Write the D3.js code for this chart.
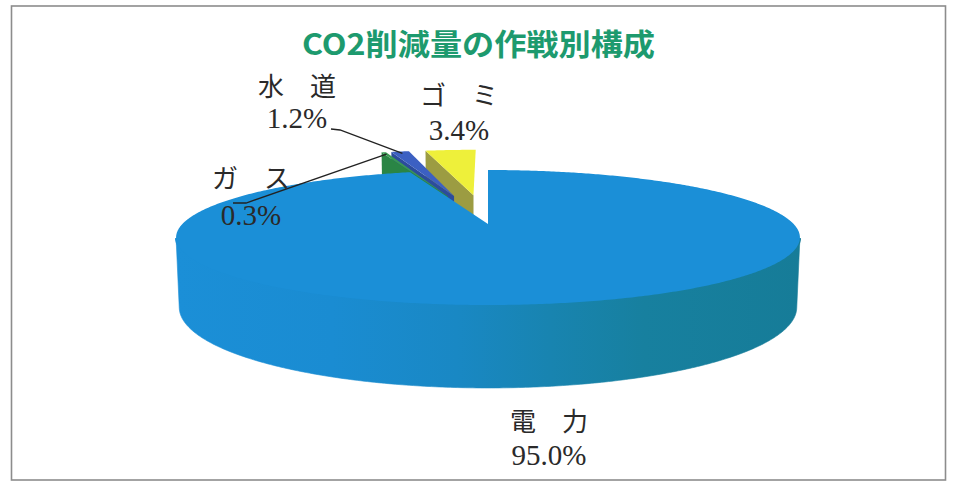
<!DOCTYPE html>
<html><head><meta charset="utf-8">
<script src="https://cdn.jsdelivr.net/npm/d3@7/dist/d3.min.js"></script>
<style>html,body{margin:0;padding:0;background:#fff;} svg{display:block}</style>
</head><body>
<svg id="chart" width="954" height="489"></svg>
<script>
// ---- data ----
const chartTitle = "CO2削減量の作戦別構成";
const categories = ["電力", "ガス", "水道", "ゴミ"];
const categoryLabels = ["電　力", "ガ　ス", "水　道", "ゴ　ミ"];
const values = [95.0, 0.3, 1.2, 3.4];
const valueLabels = ["95.0%", "0.3%", "1.2%", "3.4%"];
const explodedSlices = ["ガス", "水道", "ゴミ"];

// ---- styles ----
const topColors = {"電力": "#1b8fd7", "ガス": "#3a9a52", "水道": "#3c60c2", "ゴミ": "#eef03a"};
const wallColors = {"電力": "#1a86c4", "ガス": "#2a8545", "水道": "#2c4c9c", "ゴミ": "#9c9c42"};

const svg = d3.select("#chart");

// frame
svg.append("rect").attr("x", 11.5).attr("y", 6).attr("width", 934).attr("height", 474)
  .attr("fill", "none").attr("stroke", "#8c8c8c").attr("stroke-width", 1.6);

// title
svg.append("text").attr("x", 302).attr("y", 55)
  .attr("textLength", 353).attr("lengthAdjust", "spacingAndGlyphs")
  .attr("font-family", "'Noto Sans CJK JP', 'Noto Sans', sans-serif")
  .attr("font-weight", "bold").attr("font-size", 30).attr("fill", "#1d9a6e")
  .text(chartTitle);

// ---- 3D projection ----
const cx = 488, cy = 224;
const elev = 12.24 * Math.PI / 180;
const R = 0.2047, f = 1493, depth = 0.0466, explode = 0.1;
const se = Math.sin(elev), ce = Math.cos(elev);
function proj(x, y, z) {
  const yc = y * ce - z * se;
  const d = 1 - y * se - z * ce;
  return [cx + f * x / d, cy - f * yc / d];
}
function rim(theta, y, off, r = R) {
  return proj(off[0] + r * Math.sin(theta), y, off[1] - r * Math.cos(theta));
}
function arcPts(a0, a1, y, off) {
  const n = Math.max(2, Math.ceil(Math.abs(a1 - a0) / 0.01));
  return d3.range(n + 1).map(i => rim(a0 + (a1 - a0) * i / n, y, off));
}
const line = d3.line();

const pie = d3.pie().sort(null).value(d => d.value).startAngle(0).endAngle(2 * Math.PI);
const data = categories.map((c, i) => ({cat: c, value: values[i], label: categoryLabels[i], vlabel: valueLabels[i]}));
const arcs = pie(data);

function offsetOf(a) {
  if (!explodedSlices.includes(a.data.cat)) return [0, 0];
  const m = (a.startAngle + a.endAngle) / 2;
  return [explode * Math.sin(m), -explode * Math.cos(m)];
}

const g = svg.append("g");

// small (exploded) slices, drawn right to left
const small = arcs.filter(a => explodedSlices.includes(a.data.cat)).sort((a, b) => b.startAngle - a.startAngle);
small.forEach(a => {
  const off = offsetOf(a);
  const apexT = proj(off[0], 0, off[1]);
  const apexB = proj(off[0], -depth, off[1]);
  const wall = [apexT, rim(a.startAngle, 0, off), rim(a.startAngle, -depth, off), apexB];
  g.append("path").attr("d", line(wall) + "Z").attr("fill", wallColors[a.data.cat]);
  const top = [apexT].concat(arcPts(a.startAngle, a.endAngle, 0, off));
  g.append("path").attr("d", line(top) + "Z").attr("fill", topColors[a.data.cat]);
});

// big slice
const big = arcs.find(a => a.data.cat === "電力");
{
  const off = offsetOf(big);
  const lim = Math.acos(-R / ce);
  const s0 = Math.max(big.startAngle, lim), s1 = Math.min(big.endAngle, 2 * Math.PI - lim);
  const defs = svg.append("defs");
  const grad = defs.append("linearGradient").attr("id", "wallGrad")
    .attr("gradientUnits", "userSpaceOnUse").attr("x1", 176).attr("x2", 800).attr("y1", 0).attr("y2", 0);
  [[0, "#1b8fd7"], [0.25, "#1a8cd2"], [0.45, "#1988c4"], [0.6, "#1884b0"], [0.75, "#17809f"], [1, "#167c98"]]
    .forEach(([o, c]) => grad.append("stop").attr("offset", o).attr("stop-color", c));
  const wallPts = arcPts(s0, s1, 0, off).concat(arcPts(s1, s0, -depth, off));
  g.append("path").attr("d", line(wallPts) + "Z").attr("fill", "url(#wallGrad)")
    .attr("stroke", "url(#wallGrad)").attr("stroke-width", 0.6);
  const top = [proj(off[0], 0, off[1])].concat(arcPts(big.startAngle, big.endAngle, 0, off));
  // seam filler along the front rim
  g.append("path").attr("d", line(arcPts(s0, s1, 0, off)))
    .attr("fill", "none").attr("stroke", "url(#wallGrad)").attr("stroke-width", 2.2);
  g.append("path").attr("d", line(top) + "Z").attr("fill", topColors["電力"]);
}

// ---- labels ----
const labelLayout = {
  "電力": {x: 549, y1: 431, y2: 465},
  "ガス": {x: 251, y1: 188, y2: 225, lead: [[233, 203], [246, 203]]},
  "水道": {x: 297, y1: 96, y2: 128, lead: [[331, 129], [340, 130]]},
  "ゴミ": {x: 459, y1: 105, y2: 140}
};
arcs.forEach(a => {
  const L = labelLayout[a.data.cat];
  svg.append("text").attr("x", L.x).attr("y", L.y1).attr("text-anchor", "middle")
    .attr("font-family", "'Noto Sans CJK JP', sans-serif").attr("font-size", 26).attr("fill", "#2a2a2a")
    .text(a.data.label);
  svg.append("text").attr("x", L.x).attr("y", L.y2).attr("text-anchor", "middle")
    .attr("font-family", "'Liberation Serif', 'DejaVu Serif', serif").attr("font-size", 29).attr("fill", "#2a2a2a")
    .text(a.data.vlabel);
  if (L.lead) {
    const off = offsetOf(a);
    const m = (a.startAngle + a.endAngle) / 2;
    const end = rim(m, 0, off, R * 0.95);
    svg.append("path").attr("d", line(L.lead.concat([end])))
      .attr("fill", "none").attr("stroke", "#222").attr("stroke-width", 1.3);
  }
});
</script>
</body></html>
